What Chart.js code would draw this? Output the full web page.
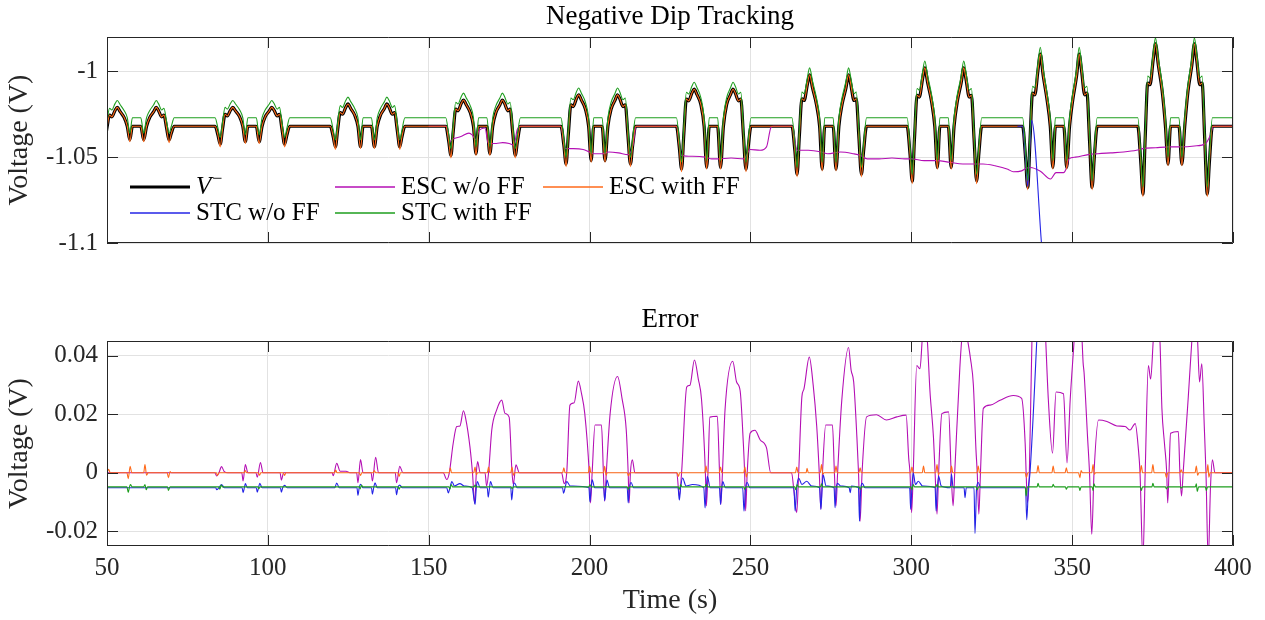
<!DOCTYPE html>
<html>
<head>
<meta charset="utf-8">
<script src="https://cdn.jsdelivr.net/npm/chart.js@4.4.1/dist/chart.umd.min.js"></script>
<style>
  body { margin: 0; background: #fff; }
  #wrap { position: relative; width: 1265px; height: 620px; }
  .box { position: absolute; left: 0; width: 1265px; }
</style>
</head>
<body>
<div id="wrap">
  <div class="box" style="top:0;height:290px"><canvas id="top"></canvas></div>
  <div class="box" style="top:290px;height:330px"><canvas id="err"></canvas></div>
</div>
<script>
// ---- axes ----
const xTicks = [50, 100, 150, 200, 250, 300, 350, 400]
const topYTicks = [-1.1, -1.05, -1]
const errYTicks = [-0.02, 0, 0.02, 0.04]
const seriesNames = ["V", "ESC w/o FF", "ESC with FF", "STC w/o FF", "STC with FF"]

// ---- top panel: V- and tracked signals (one row per dip group) ----
const topT = [
  47.7, 48.6, 49.3, 50.0, 50.8, 51.5, 52.5, 53.2, 54.1, 55.3, 56.3, 57.1, 57.9, 60.5, 61.4, 62.3, 63.3, 64.5, 65.3, 66.0, 67.0, 67.7, 68.5, 69.3, 70.0, 70.9,
  83.6, 84.5, 85.2, 85.9, 86.7, 87.4, 88.4, 89.1, 90.0, 91.2, 92.2, 93.0, 93.8, 96.4, 97.3, 98.2, 99.2, 100.4, 101.2, 101.9, 102.9, 103.6, 104.4, 105.2, 105.9, 106.8,
  119.4, 120.3, 121.0, 121.7, 122.5, 123.2, 124.2, 124.9, 125.8, 127.0, 128.0, 128.8, 129.6, 132.2, 133.1, 134.0, 135.0, 136.2, 137.0, 137.7, 138.7, 139.4, 140.2, 141.0, 141.7, 142.6,
  155.3, 156.2, 156.9, 157.6, 158.4, 159.1, 160.1, 160.8, 161.7, 162.9, 163.9, 164.7, 165.5, 168.1, 169.0, 169.9, 170.9, 172.1, 172.9, 173.6, 174.6, 175.3, 176.1, 176.9, 177.6, 178.5,
  191.1, 192.0, 192.7, 193.4, 194.2, 194.9, 195.9, 196.6, 197.5, 198.7, 199.7, 200.5, 201.3, 203.9, 204.8, 205.7, 206.7, 207.9, 208.7, 209.4, 210.4, 211.1, 211.9, 212.7, 213.4, 214.3,
  227.0, 227.9, 228.6, 229.3, 230.1, 230.8, 231.8, 232.5, 233.4, 234.6, 235.6, 236.4, 237.2, 239.8, 240.7, 241.6, 242.6, 243.8, 244.6, 245.3, 246.3, 247.0, 247.8, 248.6, 249.3, 250.2,
  262.9, 263.8, 264.5, 265.2, 266.0, 266.7, 267.7, 268.4, 269.3, 270.5, 271.5, 272.3, 273.1, 275.7, 276.6, 277.5, 278.5, 279.7, 280.5, 281.2, 282.2, 282.9, 283.7, 284.5, 285.2, 286.1,
  298.7, 299.6, 300.3, 301.0, 301.8, 302.5, 303.5, 304.2, 305.1, 306.3, 307.3, 308.1, 308.9, 311.5, 312.4, 313.3, 314.3, 315.5, 316.3, 317.0, 318.0, 318.7, 319.5, 320.3, 321.0, 321.9,
  334.6, 335.5, 336.2, 336.9, 337.7, 338.4, 339.4, 340.1, 341.0, 342.2, 343.2, 344.0, 344.8, 347.4, 348.3, 349.2, 350.2, 351.4, 352.2, 352.9, 353.9, 354.6, 355.4, 356.2, 356.9, 357.8,
  370.4, 371.3, 372.0, 372.7, 373.5, 374.2, 375.2, 375.9, 376.8, 378.0, 379.0, 379.8, 380.6, 383.2, 384.1, 385.0, 386.0, 387.2, 388.0, 388.7, 389.7, 390.4, 391.2, 392.0, 392.7, 393.6,
  400
]
const vMinus = [
  -1.032, -1.036, -1.040, -1.0328, -1.0255, -1.0265, -1.0228, -1.021, -1.0235, -1.0268, -1.032, -1.040, -1.032, -1.032, -1.040, -1.032, -1.0268, -1.0235, -1.021, -1.0228, -1.0265, -1.0255, -1.0328, -1.040, -1.036, -1.032,
  -1.032, -1.0373, -1.0425, -1.0338, -1.025, -1.026, -1.0226, -1.021, -1.0232, -1.0264, -1.032, -1.041, -1.032, -1.032, -1.041, -1.032, -1.0264, -1.0232, -1.021, -1.0226, -1.026, -1.025, -1.0338, -1.0425, -1.0373, -1.032,
  -1.032, -1.038, -1.044, -1.034, -1.024, -1.025, -1.021, -1.019, -1.0218, -1.0256, -1.032, -1.044, -1.032, -1.032, -1.044, -1.032, -1.0256, -1.0218, -1.019, -1.021, -1.025, -1.024, -1.034, -1.044, -1.038, -1.032,
  -1.032, -1.0405, -1.049, -1.0355, -1.022, -1.023, -1.0188, -1.0167, -1.0196, -1.024, -1.032, -1.048, -1.032, -1.032, -1.048, -1.032, -1.024, -1.0196, -1.0167, -1.0188, -1.023, -1.022, -1.0355, -1.049, -1.0405, -1.032,
  -1.032, -1.043, -1.054, -1.0368, -1.0195, -1.0205, -1.016, -1.0137, -1.0169, -1.022, -1.032, -1.052, -1.032, -1.032, -1.052, -1.032, -1.022, -1.0169, -1.0137, -1.016, -1.0205, -1.0195, -1.0368, -1.054, -1.043, -1.032,
  -1.032, -1.0445, -1.057, -1.0366, -1.0162, -1.0172, -1.0127, -1.0104, -1.0136, -1.0194, -1.032, -1.056, -1.032, -1.032, -1.056, -1.032, -1.0194, -1.0136, -1.0104, -1.0127, -1.0172, -1.0162, -1.0366, -1.057, -1.0445, -1.032,
  -1.032, -1.046, -1.060, -1.038, -1.016, -1.017, -1.0076, -1.002, -1.0097, -1.0192, -1.032, -1.057, -1.032, -1.032, -1.057, -1.032, -1.0192, -1.0097, -1.002, -1.0076, -1.017, -1.016, -1.038, -1.060, -1.046, -1.032,
  -1.032, -1.048, -1.064, -1.039, -1.014, -1.015, -1.0044, -0.998, -1.0068, -1.0176, -1.032, -1.056, -1.032, -1.032, -1.056, -1.032, -1.0176, -1.0068, -0.998, -1.0044, -1.015, -1.014, -1.039, -1.064, -1.048, -1.032,
  -1.032, -1.0498, -1.0676, -1.0402, -1.0127, -1.0137, -0.9991, -0.990, -1.0025, -1.0166, -1.032, -1.056, -1.032, -1.032, -1.056, -1.032, -1.0166, -1.0025, -0.990, -0.9991, -1.0137, -1.0127, -1.0402, -1.0676, -1.0498, -1.032,
  -1.032, -1.0518, -1.0715, -1.0392, -1.0068, -1.0078, -0.9931, -0.984, -0.9965, -1.0118, -1.032, -1.054, -1.032, -1.032, -1.054, -1.032, -1.0118, -0.9965, -0.984, -0.9931, -1.0078, -1.0068, -1.0392, -1.0715, -1.0518, -1.032,
  -1.032
]
const escFFTop = [
  -1.032, -1.036, -1.0415, -1.0328, -1.0255, -1.0265, -1.0228, -1.021, -1.0235, -1.0268, -1.032, -1.041, -1.032, -1.032, -1.041, -1.032, -1.0268, -1.0235, -1.021, -1.0228, -1.0265, -1.0255, -1.0328, -1.0415, -1.036, -1.032,
  -1.032, -1.0373, -1.044, -1.0338, -1.025, -1.026, -1.0226, -1.021, -1.0232, -1.0264, -1.032, -1.042, -1.032, -1.032, -1.042, -1.032, -1.0264, -1.0232, -1.021, -1.0226, -1.026, -1.025, -1.0338, -1.044, -1.0373, -1.032,
  -1.032, -1.038, -1.0455, -1.034, -1.024, -1.025, -1.021, -1.019, -1.0218, -1.0256, -1.032, -1.045, -1.032, -1.032, -1.045, -1.032, -1.0256, -1.0218, -1.019, -1.021, -1.025, -1.024, -1.034, -1.0455, -1.038, -1.032,
  -1.032, -1.0405, -1.0505, -1.0355, -1.022, -1.023, -1.0188, -1.0167, -1.0196, -1.024, -1.032, -1.049, -1.032, -1.032, -1.049, -1.032, -1.024, -1.0196, -1.0167, -1.0188, -1.023, -1.022, -1.0355, -1.0505, -1.0405, -1.032,
  -1.032, -1.043, -1.0555, -1.0368, -1.0195, -1.0205, -1.016, -1.0137, -1.0169, -1.022, -1.032, -1.053, -1.032, -1.032, -1.053, -1.032, -1.022, -1.0169, -1.0137, -1.016, -1.0205, -1.0195, -1.0368, -1.0555, -1.043, -1.032,
  -1.032, -1.0445, -1.0585, -1.0366, -1.0162, -1.0172, -1.0127, -1.0104, -1.0136, -1.0194, -1.032, -1.057, -1.032, -1.032, -1.057, -1.032, -1.0194, -1.0136, -1.0104, -1.0127, -1.0172, -1.0162, -1.0366, -1.0585, -1.0445, -1.032,
  -1.032, -1.046, -1.0615, -1.038, -1.016, -1.017, -1.0076, -1.002, -1.0097, -1.0192, -1.032, -1.058, -1.032, -1.032, -1.058, -1.032, -1.0192, -1.0097, -1.002, -1.0076, -1.017, -1.016, -1.038, -1.0615, -1.046, -1.032,
  -1.032, -1.048, -1.0655, -1.039, -1.014, -1.015, -1.0044, -0.998, -1.0068, -1.0176, -1.032, -1.057, -1.032, -1.032, -1.057, -1.032, -1.0176, -1.0068, -0.998, -1.0044, -1.015, -1.014, -1.039, -1.0655, -1.048, -1.032,
  -1.032, -1.0498, -1.069, -1.0402, -1.0127, -1.0137, -0.9991, -0.990, -1.0025, -1.0166, -1.032, -1.057, -1.032, -1.032, -1.057, -1.032, -1.0166, -1.0025, -0.990, -0.9991, -1.0137, -1.0127, -1.0402, -1.069, -1.0498, -1.032,
  -1.032, -1.0518, -1.073, -1.0392, -1.0068, -1.0078, -0.9931, -0.984, -0.9965, -1.0118, -1.032, -1.055, -1.032, -1.032, -1.055, -1.032, -1.0118, -0.9965, -0.984, -0.9931, -1.0078, -1.0068, -1.0392, -1.073, -1.0518, -1.032,
  -1.032
]
const stcFFTop = [
  -1.027, -1.032, -1.036, -1.0288, -1.0215, -1.0225, -1.0188, -1.017, -1.0195, -1.0228, -1.027, -1.036, -1.027, -1.027, -1.036, -1.027, -1.0228, -1.0195, -1.017, -1.0188, -1.0225, -1.0215, -1.0288, -1.036, -1.032, -1.027,
  -1.027, -1.0333, -1.0385, -1.0298, -1.021, -1.022, -1.0186, -1.017, -1.0192, -1.0224, -1.027, -1.037, -1.027, -1.027, -1.037, -1.027, -1.0224, -1.0192, -1.017, -1.0186, -1.022, -1.021, -1.0298, -1.0385, -1.0333, -1.027,
  -1.027, -1.034, -1.040, -1.030, -1.020, -1.021, -1.017, -1.015, -1.0178, -1.0216, -1.027, -1.040, -1.027, -1.027, -1.040, -1.027, -1.0216, -1.0178, -1.015, -1.017, -1.021, -1.020, -1.030, -1.040, -1.034, -1.027,
  -1.027, -1.0365, -1.045, -1.0315, -1.018, -1.019, -1.0148, -1.0127, -1.0156, -1.020, -1.027, -1.044, -1.027, -1.027, -1.044, -1.027, -1.020, -1.0156, -1.0127, -1.0148, -1.019, -1.018, -1.0315, -1.045, -1.0365, -1.027,
  -1.027, -1.039, -1.050, -1.0328, -1.0155, -1.0165, -1.012, -1.0097, -1.0129, -1.018, -1.027, -1.048, -1.027, -1.027, -1.048, -1.027, -1.018, -1.0129, -1.0097, -1.012, -1.0165, -1.0155, -1.0328, -1.050, -1.039, -1.027,
  -1.027, -1.0405, -1.053, -1.0326, -1.0122, -1.0132, -1.0087, -1.0064, -1.0096, -1.0154, -1.027, -1.052, -1.027, -1.027, -1.052, -1.027, -1.0154, -1.0096, -1.0064, -1.0087, -1.0132, -1.0122, -1.0326, -1.053, -1.0405, -1.027,
  -1.027, -1.042, -1.056, -1.034, -1.012, -1.013, -1.0036, -0.998, -1.0057, -1.0152, -1.027, -1.053, -1.027, -1.027, -1.053, -1.027, -1.0152, -1.0057, -0.998, -1.0036, -1.013, -1.012, -1.034, -1.056, -1.042, -1.027,
  -1.027, -1.044, -1.060, -1.035, -1.010, -1.011, -1.0004, -0.994, -1.0028, -1.0136, -1.027, -1.052, -1.027, -1.027, -1.052, -1.027, -1.0136, -1.0028, -0.994, -1.0004, -1.011, -1.010, -1.035, -1.060, -1.044, -1.027,
  -1.027, -1.0458, -1.0636, -1.0362, -1.0087, -1.0097, -0.9951, -0.986, -0.9985, -1.0126, -1.027, -1.052, -1.027, -1.027, -1.052, -1.027, -1.0126, -0.9985, -0.986, -0.9951, -1.0097, -1.0087, -1.0362, -1.0636, -1.0458, -1.027,
  -1.027, -1.0478, -1.0675, -1.0352, -1.0028, -1.0038, -0.9891, -0.9805, -0.9925, -1.0078, -1.027, -1.050, -1.027, -1.027, -1.050, -1.027, -1.0078, -0.9925, -0.9805, -0.9891, -1.0038, -1.0028, -1.0352, -1.0675, -1.0478, -1.027,
  -1.027
]
// ESC w/o FF leaves V- from the 4th dip group on (hidden under V- before that)
const escNoFFTopT = [
  150, 155.5, 156.5, 157.5, 160, 162.5, 163.5, 164.7, 165.5, 167.5, 168.5, 171, 173, 175, 176.5, 177.5, 178.5,
  191, 192.5, 195, 198, 200, 201.5, 204, 206, 209, 212, 213.5, 214.5,
  227, 228.6, 232, 236, 238, 240, 244, 248, 249.9, 253, 255, 256.3, 257,
  263, 264.5, 268, 272, 274, 278, 282, 284.2, 286.3, 290, 294, 298,
  300.1, 304, 308, 312, 316, 320, 322.3, 326, 330, 331.7, 334.3, 335.7,
  337, 340, 343.3, 345, 347.3, 348.3, 349, 351, 355, 358, 362, 366, 370,
  372, 376, 380, 384, 388, 391.5, 392.8, 394, 400
]
const escNoFFTop = [
  -1.032, -1.032, -1.041, -1.0395, -1.038, -1.036, -1.037, -1.040, -1.035, -1.033, -1.042, -1.042, -1.0415, -1.042, -1.043, -1.034, -1.032,
  -1.032, -1.045, -1.045, -1.0455, -1.047, -1.048, -1.048, -1.047, -1.0475, -1.0485, -1.043, -1.032,
  -1.032, -1.049, -1.0495, -1.050, -1.051, -1.051, -1.0505, -1.051, -1.0455, -1.046, -1.044, -1.033, -1.032,
  -1.032, -1.046, -1.046, -1.047, -1.048, -1.047, -1.048, -1.049, -1.051, -1.051, -1.0505, -1.051,
  -1.051, -1.052, -1.052, -1.053, -1.054, -1.054, -1.054, -1.055, -1.057, -1.0585, -1.058, -1.0565,
  -1.056, -1.058, -1.0627, -1.059, -1.059, -1.056, -1.051, -1.050, -1.0485, -1.048, -1.0475, -1.047, -1.046,
  -1.045, -1.0445, -1.044, -1.044, -1.0435, -1.042, -1.038, -1.032, -1.032
]
// STC w/o FF runs away near t = 337 s
const stcNoFFTopT = [333, 334.6, 335.5, 336.2, 336.8, 337.4, 340.5]
const stcNoFFTop = [-1.032, -1.032, -1.050, -1.067, -1.045, -1.0285, -1.101]

// ---- bottom panel: errors ----
const escNoFFErrT = [
  50, 83.5, 84.1, 84.8, 85.6, 86.4, 87.5, 91.9, 92.3, 93.0, 93.8, 96.3, 96.7, 97.7, 98.5, 103.8, 104.2, 104.9,
  120.0, 120.3, 121.4, 122.5, 124.3, 125.5, 127.6, 128.0, 128.8, 129.6, 132.1, 132.5, 133.5, 134.4, 139.6, 140.0, 141.0, 142.0,
  154.5, 155.6, 156.4, 157.6, 158.7, 159.7, 160.8, 161.5, 162.8, 163.6, 164.3, 164.8, 165.2, 166.0, 167.5, 168.0, 168.6, 169.6, 171.1, 172.7, 173.7, 175.0, 175.9, 176.3, 177.1, 178.2,
  191.3, 192.1, 192.9, 193.9, 195.2, 196.5, 197.5, 198.5, 199.9, 200.3, 200.8, 201.7, 203.7, 204.3, 204.7, 205.2, 206.4, 208.7, 210.1, 211.4, 212.0, 212.3, 212.7, 213.3, 214.1,
  227.1, 227.9, 228.6, 230.2, 231.2, 232.6, 233.8, 234.8, 236.0, 236.3, 236.8, 237.4, 239.7, 240.4, 240.8, 241.3, 242.1, 244.5, 245.7, 246.8, 247.8, 248.2, 248.5, 249.0, 249.9, 251.4, 253.0, 255.0, 256.3,
  262.8, 263.5, 264.4, 265.0, 266.0, 266.6, 268.3, 269.5, 270.6, 271.4, 271.9, 272.4, 273.4, 275.5, 276.1, 276.6, 277.1, 278.4, 280.5, 281.3, 282.1, 283.1, 283.6, 284.1, 284.7, 286.1, 289.2, 292.3, 295.5, 298.4, 299.2, 299.6, 300.1,
  300.6, 301.7, 302.7, 303.5, 304.3, 305.0, 305.8, 306.9, 307.4, 308.0, 308.5, 309.5, 311.6, 312.4, 313.0, 313.5, 315.1, 315.8, 316.5, 317.4, 318.4, 319.3, 320.1, 320.5, 321.0, 321.5, 322.4, 324.5, 327.6, 331.7, 334.3, 335.4, 335.7, 336.1,
  336.7, 337.5, 338.5, 340.0, 341.6, 342.6, 343.9, 345.0, 347.3, 348.4, 349.4, 350.6, 352.0, 353.1, 353.4, 353.7, 354.8, 355.4, 356.1, 356.8, 358.2, 360.8, 363.9, 366.5, 368.0, 369.6, 370.6, 371.1, 372.0,
  372.7, 373.7, 374.4, 375.2, 376.1, 377.3, 377.9, 378.7, 379.4, 379.7, 380.1, 380.6, 383.0, 383.5, 384.0, 384.5, 386.1, 387.2, 388.2, 389.0, 389.6, 390.3, 391.1, 391.6, 392.3, 393.0, 393.6, 394.4, 400
]
const escNoFFErr = [
  0, 0, -0.0011, 0, 0.0021, 0.0005, 0, 0, -0.0028, 0.0028, 0, 0, -0.0015, 0.0035, 0, 0, -0.0025, 0,
  0, -0.001, 0.0032, 0.0005, 0.0005, 0, 0, -0.0034, 0.0045, 0, 0, -0.0028, 0.0053, 0, 0, -0.0034, 0.0022, 0,
  0, -0.0023, 0, 0.010, 0.0158, 0.016, 0.0212, 0.0185, 0.009, 0, -0.0105, 0, 0.0038, 0, 0, -0.0045, 0, 0.0146, 0.0214, 0.0248, 0.0203, 0.019, 0, -0.004, 0.0027, 0,
  0, -0.0037, 0, 0.0231, 0.0239, 0.0313, 0.027, 0.0203, 0, -0.0103, 0, 0.0163, 0.0163, 0, -0.0097, 0, 0.0203, 0.0329, 0.0253, 0.0146, 0, -0.0102, 0, 0.0044, 0,
  0, -0.0079, 0, 0.0293, 0.0299, 0.0385, 0.032, 0.025, 0, -0.0113, 0, 0.019, 0.0193, 0, -0.0108, 0, 0.0214, 0.0381, 0.031, 0.028, 0.01, 0, -0.013, 0, 0.0135, 0.0145, 0.0113, 0.0085, 0,
  0, -0.006, -0.0136, 0, 0.026, 0.0285, 0.0395, 0.03, 0.016, 0, -0.0124, 0, 0.0163, 0.0163, 0, -0.0113, 0, 0.0248, 0.0428, 0.035, 0.031, 0.012, 0, -0.0165, 0, 0.0191, 0.0198, 0.018, 0.0191, 0.0197, 0.005, 0, -0.0136,
  0, 0.0366, 0.0355, 0.047, 0.053, 0.045, 0.028, 0.012, 0, -0.0141, 0, 0.0202, 0.0208, 0, -0.0113, 0, 0.036, 0.047, 0.052, 0.046, 0.039, 0.03, 0.008, 0, -0.0141, 0, 0.022, 0.0231, 0.0248, 0.0264, 0.0254, 0.01, 0, -0.0102,
  0, 0.045, 0.07, 0.085, 0.05, 0.025, 0.0067, 0.0276, 0.027, 0.0034, 0.025, 0.045, 0.07, 0.045, 0.0377, 0.0343, 0.012, 0, -0.021, 0, 0.018, 0.0175, 0.016, 0.0158, 0.0146, 0.0168, 0.008, 0, -0.03,
  0, 0.0366, 0.032, 0.045, 0.06, 0.045, 0.022, 0.01, 0, -0.0103, 0, 0.0135, 0.0141, 0, -0.0079, 0, 0.0259, 0.045, 0.06, 0.045, 0.031, 0.0372, 0.015, 0, -0.03, -0.005, 0.0044, 0, 0
]
const escFFErrT = [
  50, 50.5, 51, 56.2, 56.6, 57.2, 57.7, 61.4, 61.8, 62.3, 62.8, 68.7, 69.1, 69.6, 70,
  84.0, 84.3, 84.8, 92.6, 93.0, 93.4, 97.0, 97.4, 97.8, 104.8, 105.2, 105.6,
  120.7, 121.1, 121.5, 128.4, 128.8, 129.2, 132.7, 133.1, 133.5, 140.4, 140.8, 141.2,
  156.4, 156.7, 157.1, 164.0, 164.4, 164.8, 165.2, 168.2, 168.6, 169.0, 175.5, 175.9, 176.3, 176.7,
  191.6, 192.0, 192.4, 199.6, 200.0, 200.4, 204.3, 204.7, 205.1, 205.5, 211.7, 212.1, 212.5,
  227.2, 227.6, 228.0, 235.8, 236.2, 236.6, 240.3, 240.7, 241.1, 247.9, 248.3, 248.7, 249.1,
  264.0, 264.4, 264.8, 267.3, 267.6, 268.0, 271.7, 272.1, 272.5, 272.9, 276.2, 276.6, 277.0, 283.7, 284.1, 284.5,
  299.8, 300.2, 300.6, 303.4, 303.8, 304.2, 307.6, 308.0, 308.4, 308.8, 312.1, 312.5, 312.9, 320.4, 320.8, 321.2,
  335.4, 335.8, 336.2, 339.0, 339.4, 339.8, 343.7, 344.1, 344.5, 347.8, 348.2, 348.6, 352.0, 352.4, 352.8, 353.2, 356.1, 356.5, 356.9, 357.3,
  371.1, 371.5, 371.9, 374.7, 375.1, 375.5, 378.9, 379.3, 379.7, 383.5, 383.9, 384.3, 388.2, 388.6, 389.0, 389.4, 391.8, 392.2, 392.5, 392.9, 400
]
const escFFErr = [
  0, 0.0012, 0, 0, -0.002, 0.0022, 0, 0, 0.0028, -0.0008, 0, 0, -0.0017, 0.0004, 0,
  0, -0.0009, 0, 0, 0.0008, 0, 0, -0.0008, 0, 0, -0.0009, 0,
  0, 0.0009, 0, 0, -0.0009, 0, 0, 0.0008, 0, 0, -0.0012, 0,
  0, 0.0017, 0, 0, 0.002, -0.0006, 0, 0, 0.002, 0, 0, 0.002, -0.0008, 0,
  0, 0.0017, 0, 0, 0.0022, 0, 0, 0.0022, -0.0008, 0, 0, -0.001, 0,
  0, -0.0012, 0, 0, 0.0023, 0, 0, 0.002, 0, 0, 0.002, -0.0015, 0,
  0, 0.002, 0, 0, 0.0015, 0, 0, 0.0028, -0.0005, 0, 0, 0.0023, 0, 0, 0.0017, 0,
  0, 0.002, 0, 0, 0.0023, 0, 0, 0.0028, -0.0006, 0, 0, 0.0023, 0, 0, 0.0023, 0,
  0, -0.0017, 0, 0, 0.0025, 0, 0, 0.0023, 0, 0, 0.0017, 0, 0, -0.0017, 0.0008, 0, 0, 0.0028, -0.0005, 0,
  0, 0.0025, 0, 0, 0.0028, 0, 0, -0.0017, 0, 0, 0.001, 0, 0, 0.0023, -0.0008, 0, 0, 0.0028, -0.0015, 0, 0
]
const stcNoFFErrT = [
  50, 83.8, 84.1, 84.8, 85.6, 86.5, 92.0, 92.3, 92.7, 93.0, 93.6, 96.4, 96.7, 97.1, 97.5, 98.2, 103.9, 104.2, 104.6, 105.2, 106.0,
  120.8, 121.4, 122.2, 127.7, 128.0, 128.4, 128.8, 129.5, 132.2, 132.5, 132.9, 133.3, 134.0, 139.7, 140.0, 140.4, 141.0, 141.8,
  155.6, 156.1, 156.6, 157.2, 158.0, 159.7, 161.0, 163.5, 164.4, 164.8, 165.1, 166.0, 168.2, 168.5, 168.9, 169.2, 170.0, 175.5, 175.8, 176.2, 176.7, 177.5,
  191.6, 191.9, 192.4, 192.9, 194.0, 199.8, 200.1, 200.5, 200.8, 201.6, 204.4, 204.7, 205.1, 205.4, 206.2, 211.7, 212.0, 212.4, 212.9, 213.7,
  227.5, 227.9, 228.3, 228.9, 230.0, 232.0, 235.5, 235.9, 236.3, 236.6, 237.5, 240.4, 240.7, 241.1, 241.4, 242.2, 247.6, 248.0, 248.5, 249.0, 249.8,
  263.5, 263.9, 264.4, 265.0, 266.0, 267.5, 269.0, 271.5, 271.9, 272.3, 272.6, 273.5, 276.0, 276.3, 276.7, 277.1, 278.0, 280.7, 281.0, 281.4, 283.6, 283.9, 284.3, 284.8, 285.6,
  299.5, 299.8, 300.2, 300.6, 301.3, 302.2, 303.5, 307.4, 307.7, 308.1, 308.5, 309.3, 312.1, 312.5, 313.0, 316.4, 316.7, 317.1, 319.5, 319.8, 320.3, 320.8, 321.6,
  335.5, 335.9, 336.4, 336.9, 339.0, 339.6
]
const stcNoFFErr = [
  -0.0051, -0.0051, -0.0058, -0.0051, -0.004, -0.0051, -0.0051, -0.0068, -0.0051, -0.0037, -0.0051, -0.0051, -0.0066, -0.0051, -0.0036, -0.0051, -0.0051, -0.0066, -0.0051, -0.0043, -0.0051,
  -0.0051, -0.0035, -0.0051, -0.0051, -0.0077, -0.0051, -0.0039, -0.0051, -0.0051, -0.0073, -0.0051, -0.0034, -0.0051, -0.0051, -0.0075, -0.0051, -0.0042, -0.0051,
  -0.0051, -0.0069, -0.0051, -0.003, -0.0045, -0.0037, -0.0045, -0.0051, -0.0108, -0.0051, -0.003, -0.0051, -0.0051, -0.0083, -0.0051, -0.003, -0.0051, -0.0051, -0.0093, -0.0051, -0.0035, -0.0051,
  -0.0051, -0.007, -0.0051, -0.003, -0.0045, -0.0051, -0.0099, -0.0051, -0.0024, -0.0051, -0.0051, -0.0095, -0.0051, -0.0025, -0.0051, -0.0051, -0.0103, -0.0051, -0.0033, -0.0051,
  -0.0051, -0.0093, -0.0051, -0.0018, -0.0045, -0.004, -0.0051, -0.012, -0.0051, -0.0012, -0.0051, -0.0051, -0.0108, -0.0051, -0.003, -0.0051, -0.0051, -0.0131, -0.0051, -0.0033, -0.0051,
  -0.0051, -0.0131, -0.0051, -0.0018, -0.004, -0.0029, -0.0045, -0.0051, -0.0125, -0.0051, -0.0007, -0.0045, -0.0051, -0.0119, -0.0051, -0.0036, -0.0045, -0.0051, -0.0068, -0.0045, -0.0051, -0.0165, -0.0051, -0.0036, -0.0051,
  -0.0051, -0.0125, -0.0051, 0.0, -0.004, -0.0029, -0.0045, -0.0051, -0.013, -0.0051, -0.0012, -0.0045, -0.0051, -0.0005, -0.0051, -0.0051, -0.0085, -0.0051, -0.0051, -0.0207, -0.0051, -0.0033, -0.0051,
  -0.0051, -0.016, -0.0051, 0.0, 0.045, 0.06
]
const stcFFErrT = [
  50, 56.2, 56.6, 57.0, 57.3, 57.8, 61.4, 61.8, 62.2, 62.6, 68.8, 69.1, 69.6,
  84.8, 85.1, 85.5, 85.9, 96.9, 97.2, 97.6,
  128.4, 128.7, 129.1, 129.5, 140.5, 140.8, 141.2,
  156.3, 156.6, 157.0, 157.4, 164.1, 164.4, 164.8, 175.6, 175.9, 176.3,
  199.8, 200.1, 200.5, 211.7, 212.0, 212.4,
  227.6, 227.9, 228.3, 228.7, 235.9, 236.2, 236.6, 247.9, 248.2, 248.6,
  263.8, 264.1, 264.5, 264.9, 271.8, 272.1, 272.5, 283.8, 284.1, 284.5,
  299.9, 300.2, 300.6, 301.0, 307.7, 308.0, 308.4, 320.2, 320.5, 320.9,
  335.4, 335.7, 336.1, 339.1, 339.4, 339.8, 343.8, 344.1, 344.5, 347.9, 348.2, 348.6, 352.1, 352.4, 352.8, 356.2, 356.5, 356.8, 357.2,
  371.2, 371.5, 371.9, 374.8, 375.1, 375.5, 379.0, 379.3, 379.7, 383.6, 383.9, 384.3, 388.3, 388.6, 388.9, 389.3, 391.4, 391.7, 392.1, 400
]
const stcFFErr = [
  -0.0048, -0.0048, -0.0067, -0.0048, -0.004, -0.0048, -0.0048, -0.004, -0.0058, -0.0048, -0.0048, -0.006, -0.0048,
  -0.0048, -0.0056, -0.0042, -0.0048, -0.0048, -0.0054, -0.0048,
  -0.0048, -0.0055, -0.0042, -0.0048, -0.0048, -0.0056, -0.0048,
  -0.0048, -0.0056, -0.004, -0.0048, -0.0048, -0.0042, -0.0048, -0.0048, -0.0055, -0.0048,
  -0.0048, -0.004, -0.0048, -0.0048, -0.0056, -0.0048,
  -0.0048, -0.0057, -0.004, -0.0048, -0.0048, -0.0039, -0.0048, -0.0048, -0.0056, -0.0048,
  -0.0048, -0.0058, -0.004, -0.0048, -0.0048, -0.0038, -0.0048, -0.0048, -0.0057, -0.0048,
  -0.0048, -0.0058, -0.004, -0.0048, -0.0048, -0.0039, -0.0048, -0.0048, -0.0058, -0.0048,
  -0.0048, -0.0079, -0.0048, -0.0048, -0.0036, -0.0048, -0.0048, -0.0039, -0.0048, -0.0048, -0.0056, -0.0048, -0.0048, -0.006, -0.0048, -0.0048, -0.006, -0.0038, -0.0048,
  -0.0048, -0.006, -0.0048, -0.0048, -0.0036, -0.0048, -0.0048, -0.0055, -0.0048, -0.0048, -0.0053, -0.0048, -0.0048, -0.0038, -0.0064, -0.0048, -0.0048, -0.006, -0.0048, -0.0048
]

// ---- styling ----
const cBlack = "#000000"
const cMag = "#b40fb4"
const cOrange = "#ff6a1a"
const cBlue = "#2424e6"
const cGreen = "#1e9e1e"
const gridColor = "#e2e2e2"
const axisColor = "#262626"
const serif = '"Liberation Serif", "Times New Roman", serif'

Chart.defaults.font.family = serif
Chart.defaults.color = axisColor

const pairs = [[topT, vMinus], [topT, escFFTop], [topT, stcFFTop], [escNoFFTopT, escNoFFTop], [stcNoFFTopT, stcNoFFTop],
  [escNoFFErrT, escNoFFErr], [escFFErrT, escFFErr], [stcNoFFErrT, stcNoFFErr], [stcFFErrT, stcFFErr]]
pairs.forEach(([a, b], i) => { if (a.length !== b.length) throw new Error("length mismatch in pair " + i + ": " + a.length + " vs " + b.length) })

const pts = (ts, vs) => ts.map((t, i) => ({ x: t, y: vs[i] }))
const line = (label, ts, vs, color, width) => ({
  label, data: pts(ts, vs), borderColor: color, borderWidth: width || 1.1,
  pointRadius: 0, fill: false, cubicInterpolationMode: "monotone",
})

// legend layout of the top panel (rows of 3 / 2, like the original)
const legendItems = [
  { name: seriesNames[0], color: cBlack, width: 3, x: 130, y: 187, sup: "\u2212" },
  { name: seriesNames[1], color: cMag, width: 1.3, x: 335, y: 187 },
  { name: seriesNames[2], color: cOrange, width: 1.3, x: 543, y: 187 },
  { name: seriesNames[3], color: cBlue, width: 1.3, x: 130, y: 213 },
  { name: seriesNames[4], color: cGreen, width: 1.3, x: 335, y: 213 },
]

const drawLegend = ctx => {
  ctx.textAlign = "left"
  ctx.textBaseline = "middle"
  legendItems.forEach(it => {
    ctx.strokeStyle = it.color
    ctx.lineWidth = it.width
    ctx.beginPath()
    ctx.moveTo(it.x, it.y)
    ctx.lineTo(it.x + 60, it.y)
    ctx.stroke()
    ctx.fillStyle = "#000"
    if (it.sup) {
      ctx.font = "italic 25px " + serif
      ctx.fillText(it.name, it.x + 66, it.y)
      const w = ctx.measureText(it.name).width
      ctx.font = "18px " + serif
      ctx.fillText(it.sup, it.x + 66 + w + 1, it.y - 8)
    } else {
      ctx.font = "25px " + serif
      ctx.fillText(it.name, it.x + 66, it.y)
    }
  })
}

// box, inward ticks on all four sides, title, legend
const frame = {
  id: "frame",
  afterDraw(chart, args, o) {
    const { ctx, chartArea: a, scales: { x, y } } = chart
    ctx.save()
    ctx.strokeStyle = axisColor
    ctx.lineWidth = 1
    ctx.beginPath()
    x.ticks.forEach(t => {
      const px = Math.round(x.getPixelForValue(t.value)) + 0.5
      ctx.moveTo(px, a.top); ctx.lineTo(px, a.top + 11)
      ctx.moveTo(px, a.bottom); ctx.lineTo(px, a.bottom - 11)
    })
    y.ticks.forEach(t => {
      const py = Math.round(y.getPixelForValue(t.value)) + 0.5
      ctx.moveTo(a.left, py); ctx.lineTo(a.left + 11, py)
      ctx.moveTo(a.right, py); ctx.lineTo(a.right - 11, py)
    })
    ctx.rect(a.left + 0.5, a.top + 0.5, a.width - 1, a.height - 1)
    ctx.stroke()
    ctx.fillStyle = "#000"
    ctx.font = "27px " + serif
    ctx.textAlign = "center"
    ctx.textBaseline = "middle"
    ctx.fillText(o.title, (a.left + a.right) / 2, o.titleY)
    if (o.legend) drawLegend(ctx)
    ctx.restore()
  },
}

const makeOptions = ({ yMin, yMax, yTicks, padTop, axisH, showX, title, titleY, legend }) => ({
  responsive: true,
  maintainAspectRatio: false,
  animation: false,
  layout: { padding: { top: padTop, right: 32, left: 0, bottom: 0 } },
  plugins: {
    legend: { display: false },
    tooltip: { enabled: false },
    frame: { title, titleY, legend },
  },
  scales: {
    x: {
      type: "linear", min: 50, max: 400,
      afterBuildTicks: s => { s.ticks = xTicks.map(v => ({ value: v })) },
      afterFit: s => { s.height = axisH },
      grid: { color: gridColor, drawTicks: false },
      border: { display: false },
      ticks: { display: showX, padding: 7, font: { size: 25 }, color: axisColor },
      title: { display: showX, text: "Time (s)", font: { size: 28 }, color: axisColor, padding: { top: 0, bottom: 3 } },
    },
    y: {
      type: "linear", min: yMin, max: yMax,
      afterBuildTicks: s => { s.ticks = yTicks.map(v => ({ value: v })) },
      afterFit: s => { s.width = 107 },
      grid: { color: gridColor, drawTicks: false },
      border: { display: false },
      ticks: { padding: 9, font: { size: 25 }, color: axisColor, callback: v => String(+v.toFixed(3)) },
      title: { display: true, text: "Voltage (V)", font: { size: 28 }, color: axisColor, padding: { top: 3, bottom: 0 } },
    },
  },
})

// dataset order: first one is painted on top
new Chart(document.getElementById("top"), {
  type: "line",
  data: {
    datasets: [
      line(seriesNames[4], topT, stcFFTop, cGreen),
      line(seriesNames[3], stcNoFFTopT, stcNoFFTop, cBlue),
      line(seriesNames[2], topT, escFFTop, cOrange),
      line(seriesNames[1], escNoFFTopT, escNoFFTop, cMag),
      line(seriesNames[0], topT, vMinus, cBlack, 3.2),
    ],
  },
  options: makeOptions({
    yMin: -1.1, yMax: -0.98, yTicks: topYTicks, padTop: 37, axisH: 47, showX: false,
    title: "Negative Dip Tracking", titleY: 17, legend: true,
  }),
  plugins: [frame],
})

new Chart(document.getElementById("err"), {
  type: "line",
  data: {
    datasets: [
      line(seriesNames[4], stcFFErrT, stcFFErr, cGreen),
      line(seriesNames[3], stcNoFFErrT, stcNoFFErr, cBlue),
      line(seriesNames[2], escFFErrT, escFFErr, cOrange),
      line(seriesNames[1], escNoFFErrT, escNoFFErr, cMag),
    ],
  },
  options: makeOptions({
    yMin: -0.025, yMax: 0.045, yTicks: errYTicks, padTop: 51, axisH: 74, showX: true,
    title: "Error", titleY: 30, legend: false,
  }),
  plugins: [frame],
})
</script>
</body>
</html>
